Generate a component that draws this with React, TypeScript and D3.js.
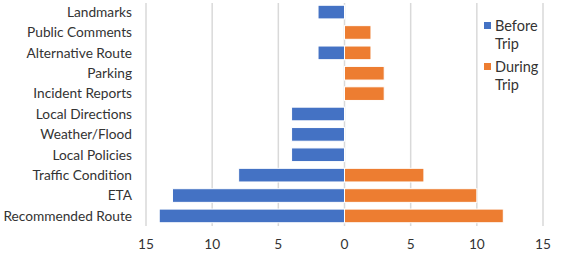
import * as d3 from "d3";
import { useEffect, useRef } from "react";

const categories = [
  "Landmarks",
  "Public Comments",
  "Alternative Route",
  "Parking",
  "Incident Reports",
  "Local Directions",
  "Weather/Flood",
  "Local Policies",
  "Traffic Condition",
  "ETA",
  "Recommended Route",
];
const beforeTrip = [2, 0, 2, 0, 0, 4, 4, 4, 8, 13, 14];
const duringTrip = [0, 2, 2, 3, 3, 0, 0, 0, 6, 10, 12];
const tickValues = [-15, -10, -5, 0, 5, 10, 15];
const seriesNames = [["Before", "Trip"], ["During", "Trip"]];
const colors = ["#4472C4", "#ED7D31"];

export default function App() {
  const svgRef = useRef<SVGSVGElement>(null);

  useEffect(() => {
    const svg = d3.select(svgRef.current);
    svg.selectAll("*").remove();
    const font = "Lato, 'Open Sans', sans-serif";
    const fontSize = 13.7;

    const x = d3.scaleLinear().domain([-15, 15]).range([146, 543]);
    const y = d3.scaleBand().domain(categories).range([2, 226]).paddingInner(0.33).paddingOuter(0.16);

    // gridlines
    svg
      .append("g")
      .selectAll("line")
      .data(tickValues)
      .enter()
      .append("line")
      .attr("x1", (d) => x(d))
      .attr("x2", (d) => x(d))
      .attr("y1", 3)
      .attr("y2", 226)
      .attr("stroke", "#d9d9d9")
      .attr("stroke-width", 1.5);

    // bars
    const rows = categories.map((c, i) => ({ c, b: beforeTrip[i], d: duringTrip[i] }));
    svg
      .append("g")
      .selectAll("rect")
      .data(rows.filter((r) => r.b > 0))
      .enter()
      .append("rect")
      .attr("x", (r) => x(-r.b))
      .attr("y", (r) => y(r.c) ?? 0)
      .attr("width", (r) => x(0) - x(-r.b))
      .attr("height", y.bandwidth())
      .attr("fill", colors[0])
      .attr("stroke", "#fff")
      .attr("stroke-width", 1);
    svg
      .append("g")
      .selectAll("rect")
      .data(rows.filter((r) => r.d > 0))
      .enter()
      .append("rect")
      .attr("x", x(0))
      .attr("y", (r) => y(r.c) ?? 0)
      .attr("width", (r) => x(r.d) - x(0))
      .attr("height", y.bandwidth())
      .attr("fill", colors[1])
      .attr("stroke", "#fff")
      .attr("stroke-width", 1);

    // category labels
    svg
      .append("g")
      .selectAll("text")
      .data(categories)
      .enter()
      .append("text")
      .attr("x", 132)
      .attr("y", (c) => (y(c) ?? 0) + y.bandwidth() / 2)
      .attr("dy", "0.35em")
      .attr("text-anchor", "end")
      .attr("font-family", font)
      .attr("font-size", fontSize)
      .attr("fill", "#333")
      .text((c) => c);

    // x tick labels
    svg
      .append("g")
      .selectAll("text")
      .data(tickValues)
      .enter()
      .append("text")
      .attr("x", (d) => x(d))
      .attr("y", 244)
      .attr("dy", "0.35em")
      .attr("text-anchor", "middle")
      .attr("font-family", font)
      .attr("font-size", fontSize)
      .attr("fill", "#333")
      .text((d) => Math.abs(d));

    // legend
    const legend = svg
      .append("g")
      .selectAll("g")
      .data(seriesNames)
      .enter()
      .append("g")
      .attr("transform", (_, i) => `translate(484, ${22 + i * 41})`);
    legend
      .append("rect")
      .attr("width", 7)
      .attr("height", 7)
      .attr("fill", (_, i) => colors[i]);
    legend
      .selectAll("text")
      .data((d) => d)
      .enter()
      .append("text")
      .attr("x", 11)
      .attr("y", (_, j) => 3.5 + j * 18)
      .attr("dy", "0.35em")
      .attr("font-family", font)
      .attr("font-size", 14.5)
      .attr("fill", "#333")
      .text((t) => t);
  }, []);

  return (
    <svg
      ref={svgRef}
      width={562}
      height={256}
      style={{ position: "absolute", left: 0, top: 0, background: "#fff" }}
    />
  );
}
